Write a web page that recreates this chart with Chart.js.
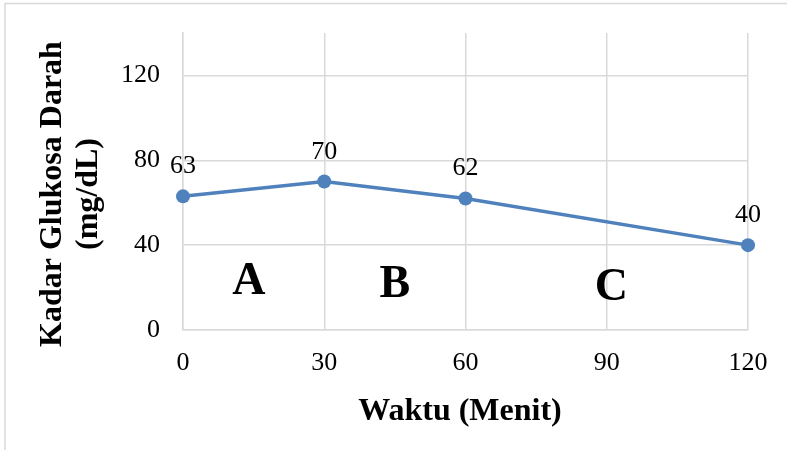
<!DOCTYPE html>
<html>
<head>
<meta charset="utf-8">
<script src="https://cdn.jsdelivr.net/npm/chart.js@4"></script>
<style>
  html, body { margin: 0; padding: 0; background: #fff; }
  #wrap { width: 787px; height: 450px; position: relative; }
</style>
</head>
<body>
<div id="wrap"><canvas id="myChart"></canvas></div>
<script>
// data
const waktu = [0, 30, 60, 120];
const glukosa = [63, 70, 62, 40];
const xTicks = [0, 30, 60, 90, 120];
const yTicks = [0, 40, 80, 120];
const sectionNames = ['A', 'B', 'C'];

const xTitle = 'Waktu (Menit)';
const yTitle = ['Kadar Glukosa Darah', '(mg/dL)'];

const serif = '"Liberation Serif", "Times New Roman", serif';
const blue = '#4F81BD';
const grid = '#d9d9d9';

// where the A / B / C letters sit, in data units
const sectionPos = [[14, 17], [45, 15.5], [91, 14]];

const ctx = document.getElementById('myChart').getContext('2d');

// outer frame, axis titles, value labels and section letters
const extras = {
  id: 'extras',
  beforeDraw(chart) {
    const c = chart.ctx;
    c.save();
    c.fillStyle = '#fff';
    c.fillRect(0, 0, chart.width, chart.height);
    c.strokeStyle = grid;
    c.lineWidth = 1.5;
    c.strokeRect(5, 3.5, chart.width + 20, chart.height + 20);
    c.restore();
  },
  afterDatasetsDraw(chart) {
    const c = chart.ctx;
    const xs = chart.scales.x, ys = chart.scales.y;
    c.save();
    c.fillStyle = '#000';

    // value labels above points
    c.font = '26px ' + serif;
    c.textAlign = 'center';
    c.textBaseline = 'alphabetic';
    chart.getDatasetMeta(0).data.forEach((pt, i) => {
      c.fillText(String(glukosa[i]), pt.x, pt.y - 23);
    });

    // section letters
    c.font = 'bold 46px ' + serif;
    sectionNames.forEach((s, i) => {
      c.fillText(s, xs.getPixelForValue(sectionPos[i][0]), ys.getPixelForValue(sectionPos[i][1]));
    });

    // x title
    c.font = 'bold 32px ' + serif;
    c.fillText(xTitle, 460, 420);

    // y title, two rotated lines
    c.translate(0, 194);
    c.rotate(-Math.PI / 2);
    c.fillText(yTitle[0], 0, 61);
    c.fillText(yTitle[1], 0, 97);
    c.restore();
  }
};

const myChart = new Chart(ctx, {
  type: 'line',
  data: {
    datasets: [{
      label: 'Kadar Glukosa Darah',
      data: waktu.map((w, i) => ({ x: w, y: glukosa[i] })),
      borderColor: blue,
      backgroundColor: blue,
      borderWidth: 3.5,
      pointRadius: 7,
      pointHoverRadius: 7,
      pointBorderWidth: 0,
      pointBackgroundColor: blue,
      tension: 0,
      clip: false
    }]
  },
  options: {
    responsive: true,
    maintainAspectRatio: false,
    devicePixelRatio: 1,
    animation: false,
    events: [],
    layout: { padding: { top: 33, right: 39, left: 0, bottom: 0 } },
    plugins: {
      legend: { display: false },
      tooltip: { enabled: false }
    },
    scales: {
      x: {
        type: 'linear',
        min: 0,
        max: 120,
        afterBuildTicks: (s) => { s.ticks = xTicks.map(v => ({ value: v })); },
        afterFit: (s) => { s.height = 120; s.paddingLeft = 0; s.paddingRight = 0; },
        grid: { color: grid, lineWidth: 1.5, drawTicks: false },
        border: { color: grid, width: 1.5 },
        ticks: {
          color: '#000',
          padding: 18,
          maxRotation: 0,
          font: { family: serif, size: 26 }
        }
      },
      y: {
        min: 0,
        max: 140,
        afterBuildTicks: (s) => { s.ticks = yTicks.map(v => ({ value: v })); },
        afterFit: (s) => { s.width = 183; s.paddingTop = 0; s.paddingBottom = 0; },
        grid: { color: grid, lineWidth: 1.5, drawTicks: false },
        border: { color: grid, width: 1.5 },
        ticks: {
          color: '#000',
          padding: 23,
          font: { family: serif, size: 26 }
        }
      }
    }
  },
  plugins: [extras]
});
</script>
</body>
</html>
